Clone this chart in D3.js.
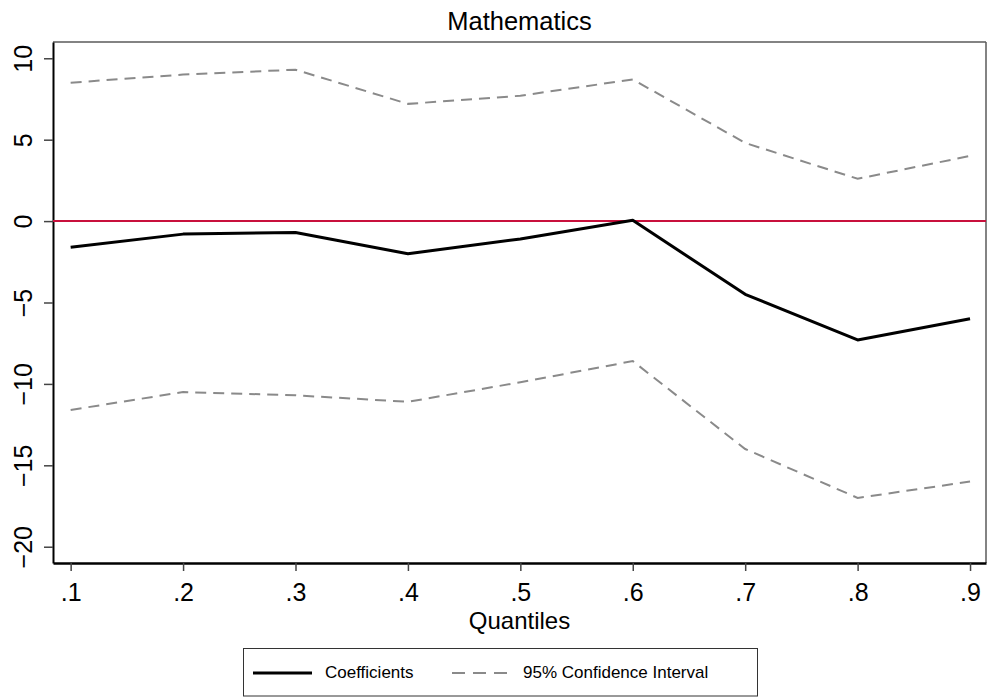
<!DOCTYPE html>
<html>
<head>
<meta charset="utf-8">
<script src="https://cdn.jsdelivr.net/npm/d3@7"></script>
<style>
  body { margin: 0; background: #fff; }
  text { font-family: "Liberation Sans", Arial, sans-serif; fill: #000; }
</style>
</head>
<body>
<div id="chart"></div>
<script>
// Data
const quantiles = [0.1, 0.2, 0.3, 0.4, 0.5, 0.6, 0.7, 0.8, 0.9]
const coefficients = [-1.6, -0.8, -0.7, -2.0, -1.1, 0.05, -4.5, -7.3, -6.0]
const upperCI = [8.5, 9.0, 9.3, 7.2, 7.7, 8.7, 4.8, 2.6, 4.0]
const lowerCI = [-11.6, -10.5, -10.7, -11.1, -9.9, -8.6, -14.0, -17.0, -16.0]
const yTicks = [-20, -15, -10, -5, 0, 5, 10]

const width = 987
const height = 697
const margin = { top: 42, right: 1, bottom: 134, left: 53 }
const graphWidth = width - margin.left - margin.right
const graphHeight = height - margin.top - margin.bottom

const svg = d3.select("#chart")
    .append("svg")
    .attr("width", width)
    .attr("height", height)

const g = svg.append("g")
    .attr("transform", `translate(${margin.left}, ${margin.top})`)

// Scales
const x = d3.scaleLinear()
    .domain([0.0843, 0.9142])
    .range([0, graphWidth])

const y = d3.scaleLinear()
    .domain([-21, 11])
    .range([graphHeight, 0])

// Frame (top / right thinner grey)
g.append("line")
    .attr("x1", 0).attr("x2", graphWidth)
    .attr("y1", 0).attr("y2", 0)
    .style("stroke", "#5a5a5a").style("stroke-width", 1.5)
g.append("line")
    .attr("x1", graphWidth).attr("x2", graphWidth)
    .attr("y1", 0).attr("y2", graphHeight)
    .style("stroke", "#5a5a5a").style("stroke-width", 1.5)

// Axes
const yAxis = d3.axisLeft(y)
    .tickValues(yTicks)
    .tickSizeInner(9)
    .tickSizeOuter(0)
    .tickFormat(d3.format("d"))

const xAxis = d3.axisBottom(x)
    .tickValues(quantiles)
    .tickSizeInner(8)
    .tickSizeOuter(0)
    .tickFormat(d => d3.format(".1f")(d).replace(/^0/, ""))

const yAxisGroup = g.append("g").call(yAxis)
yAxisGroup.select(".domain")
    .style("stroke", "#000").style("stroke-width", 2)
yAxisGroup.selectAll(".tick line")
    .style("stroke", "#444").style("stroke-width", 1.5)
yAxisGroup.selectAll("text")
    .attr("transform", "rotate(-90)")
    .attr("x", 0)
    .attr("y", -21)
    .attr("dy", null)
    .style("text-anchor", "middle")
    .style("font-size", "25px")
    .style("font-family", "Liberation Sans, Arial, sans-serif")
    .style("fill", "#000")

const xAxisGroup = g.append("g")
    .attr("transform", `translate(0, ${graphHeight})`)
    .call(xAxis)
xAxisGroup.select(".domain")
    .style("stroke", "#000").style("stroke-width", 2.5)
xAxisGroup.selectAll(".tick line")
    .style("stroke", "#444").style("stroke-width", 1.5)
xAxisGroup.selectAll("text")
    .attr("y", 38)
    .attr("dy", null)
    .style("font-size", "25px")
    .style("font-family", "Liberation Sans, Arial, sans-serif")
    .style("fill", "#000")

// Reference line at zero
g.append("line")
    .attr("x1", 0).attr("x2", graphWidth)
    .attr("y1", y(0)).attr("y2", y(0))
    .style("stroke", "#c8103c").style("stroke-width", 2)

// Lines
const line = d3.line()
    .x((d, i) => x(quantiles[i]))
    .y(d => y(d))

g.append("path")
    .datum(upperCI)
    .attr("d", line)
    .style("fill", "none")
    .style("stroke", "#8a8a8a")
    .style("stroke-width", 2)
    .style("stroke-dasharray", "11,7")

g.append("path")
    .datum(lowerCI)
    .attr("d", line)
    .style("fill", "none")
    .style("stroke", "#8a8a8a")
    .style("stroke-width", 2)
    .style("stroke-dasharray", "11,7")

g.append("path")
    .datum(coefficients)
    .attr("d", line)
    .style("fill", "none")
    .style("stroke", "#000")
    .style("stroke-width", 3)
    .style("stroke-linejoin", "round")

// Titles
svg.append("text")
    .attr("x", margin.left + graphWidth / 2)
    .attr("y", 30)
    .style("text-anchor", "middle")
    .style("font-size", "25.5px")
    .text("Mathematics")

svg.append("text")
    .attr("x", margin.left + graphWidth / 2)
    .attr("y", 629)
    .style("text-anchor", "middle")
    .style("font-size", "24px")
    .text("Quantiles")

// Legend
const legend = svg.append("g")
legend.append("rect")
    .attr("x", 243.5).attr("y", 648.5)
    .attr("width", 514).attr("height", 47.5)
    .style("fill", "#fff")
    .style("stroke", "#333")
    .style("stroke-width", 1)

legend.append("line")
    .attr("x1", 253).attr("x2", 312)
    .attr("y1", 673).attr("y2", 673)
    .style("stroke", "#000").style("stroke-width", 3)
legend.append("text")
    .attr("x", 325).attr("y", 678)
    .style("font-size", "17px")
    .text("Coefficients")

legend.append("line")
    .attr("x1", 452).attr("x2", 507)
    .attr("y1", 673).attr("y2", 673)
    .style("stroke", "#8a8a8a").style("stroke-width", 2)
    .style("stroke-dasharray", "13,8")
legend.append("text")
    .attr("x", 523).attr("y", 678)
    .style("font-size", "17px")
    .text("95% Confidence Interval")
</script>
</body>
</html>
